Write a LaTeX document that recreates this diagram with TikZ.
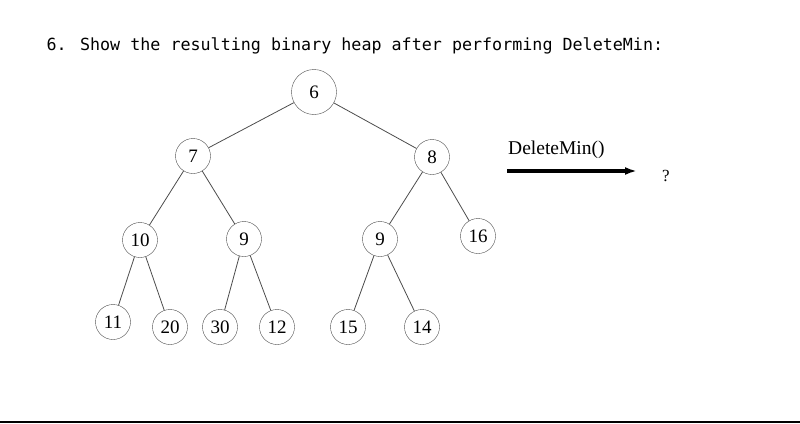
\documentclass[tikz,border=0pt]{standalone}
\usepackage{fontspec}
\setmainfont{Liberation Serif}
\newfontfamily\titlefont{DejaVu Sans Mono}
\usetikzlibrary{arrows.meta}

\begin{document}
\begin{tikzpicture}[
    x=1pt, y=-1pt,
    kunci/.style={draw=black!70, circle, inner sep=0pt, minimum size=35pt,
                  font=\fontsize{19}{19}\selectfont},
    akar/.style={kunci, minimum size=45pt},
    sisi/.style={draw=black!70, line width=0.8pt},
    panah/.style={-{Latex[length=12pt, width=8pt]}, line width=3.8pt}
  ]
    \useasboundingbox (0,0) rectangle (800,423);
    \node[font=\titlefont\fontsize{16.7}{17}\selectfont, anchor=west] (judul) at (43,46)
      {6. Show the resulting binary heap after performing DeleteMin:};

    % heap
    \node[akar] (n6) at (314,92) {6};
    \node[kunci] (n7) at (193,156) {7};
    \node[kunci] (n8) at (432,157) {8};
    \node[kunci] (n10) at (140,240) {10};
    \node[kunci] (n9a) at (244,239) {9};
    \node[kunci] (n9b) at (380,239) {9};
    \node[kunci] (n16) at (478,236) {16};
    \node[kunci] (n11) at (113,322) {11};
    \node[kunci] (n20) at (170,327) {20};
    \node[kunci] (n30) at (220,327) {30};
    \node[kunci] (n12) at (277,327) {12};
    \node[kunci] (n15) at (348,327) {15};
    \node[kunci] (n14) at (422,327) {14};

    \draw[sisi] (n6) -- (n7);
    \draw[sisi] (n6) -- (n8);
    \draw[sisi] (n7) -- (n10);
    \draw[sisi] (n7) -- (n9a);
    \draw[sisi] (n8) -- (n9b);
    \draw[sisi] (n8) -- (n16);
    \draw[sisi] (n10) -- (n11);
    \draw[sisi] (n10) -- (n20);
    \draw[sisi] (n9a) -- (n30);
    \draw[sisi] (n9a) -- (n12);
    \draw[sisi] (n9b) -- (n15);
    \draw[sisi] (n9b) -- (n14);

    % operasi
    \node[font=\fontsize{19.5}{19.5}\selectfont, anchor=west, inner sep=0pt] (op) at (508,150) {DeleteMin()};
    \coordinate (mulai) at (507,171);
    \coordinate (ujung) at (637,171);
    \draw[panah] (mulai) -- (ujung);
    \node[font=\fontsize{17}{17}\selectfont] (tanya) at (666,176) {?};

    \coordinate (garisA) at (0,422);
    \coordinate (garisB) at (800,422);
    \draw[line width=2pt] (garisA) -- (garisB);
  \end{tikzpicture}
\end{document}
